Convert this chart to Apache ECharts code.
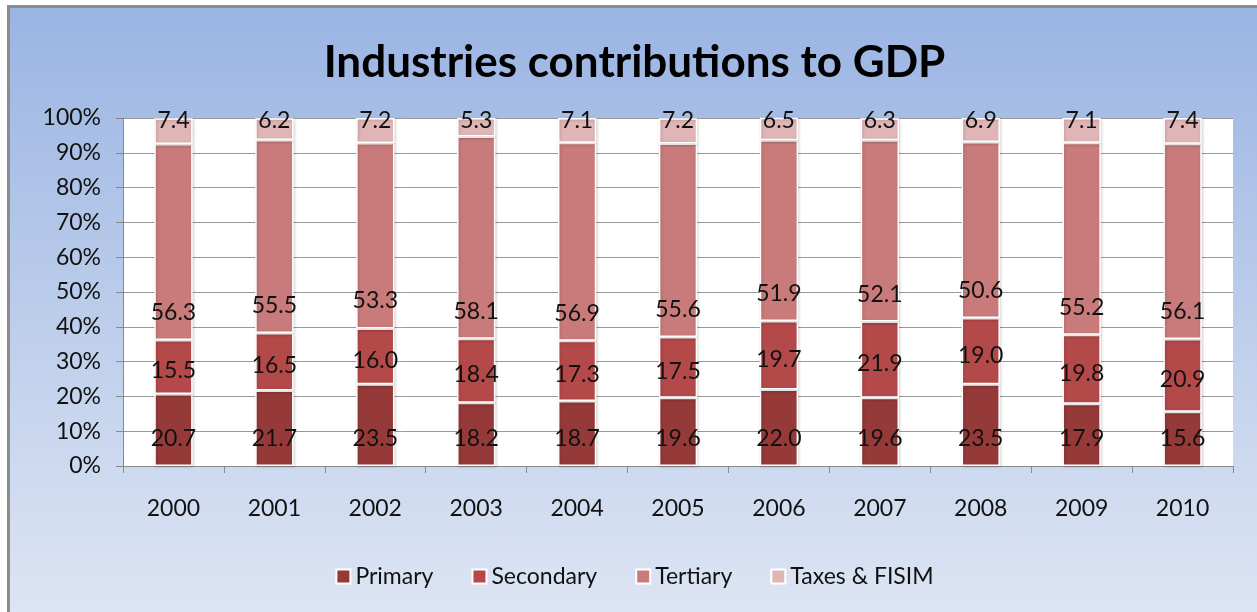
<!DOCTYPE html>
<html>
<head>
<meta charset="utf-8">
<script src="https://cdn.jsdelivr.net/npm/echarts@6/dist/echarts.min.js"></script>
<style>
  html, body { margin: 0; padding: 0; background: #fff; }
  #chart {
    position: absolute; left: 7px; top: 5px; width: 1249px; height: 620px;
    border-left: 3px solid #8c8c8c; border-top: 3px solid #8c8c8c;
    background: linear-gradient(to bottom, #9ab4e3 0%, #b9cbea 45%, #dfe6f4 100%);
  }
</style>
</head>
<body>
<div id="chart"></div>
<script>
var years = ['2000', '2001', '2002', '2003', '2004', '2005', '2006', '2007', '2008', '2009', '2010'];
var primary = [20.7, 21.7, 23.5, 18.2, 18.7, 19.6, 22.0, 19.6, 23.5, 17.9, 15.6];
var secondary = [15.5, 16.5, 16.0, 18.4, 17.3, 17.5, 19.7, 21.9, 19.0, 19.8, 20.9];
var tertiary = [56.3, 55.5, 53.3, 58.1, 56.9, 55.6, 51.9, 52.1, 50.6, 55.2, 56.1];
var taxes = [7.4, 6.2, 7.2, 5.3, 7.1, 7.2, 6.5, 6.3, 6.9, 7.1, 7.4];
var yTicks = [0, 10, 20, 30, 40, 50, 60, 70, 80, 90, 100];

var font = 'Lato, "Open Sans", sans-serif';

function seg(name, data, color, label) {
  return {
    name: name,
    type: 'bar',
    stack: 'gdp',
    barWidth: '38%',
    data: data,
    itemStyle: {
      color: color,
      borderColor: '#ffffff',
      borderWidth: 1.5,
      shadowColor: 'rgba(0,0,0,0.18)',
      shadowBlur: 3,
      shadowOffsetX: 1,
      shadowOffsetY: 1
    },
    label: Object.assign({
      show: true,
      color: '#111',
      fontSize: 23,
      fontFamily: font,
      formatter: function (p) { return p.value.toFixed(1); }
    }, label)
  };
}

var chart = echarts.init(document.getElementById('chart'), null, { renderer: 'canvas' });

var option = {
  animation: false,
  backgroundColor: 'transparent',
  title: {
    text: 'Industries contributions to GDP',
    left: 'center',
    top: 28,
    textStyle: { fontSize: 44, fontWeight: 'bold', color: '#000', fontFamily: font }
  },
  legend: {
    top: 552,
    left: 'center',
    itemWidth: 14,
    itemHeight: 14,
    itemGap: 38,
    icon: 'rect',
    textStyle: { fontSize: 23, color: '#111', fontFamily: font },
    data: ['Primary', 'Secondary', 'Tertiary', 'Taxes & FISIM']
  },
  grid: { left: 113, right: 26, top: 110, bottom: 162, containLabel: false },
  xAxis: {
    type: 'category',
    data: years,
    axisLine: { lineStyle: { color: '#888' } },
    axisTick: { show: true, length: 7, lineStyle: { color: '#888' } },
    axisLabel: { fontSize: 23, color: '#111', margin: 31, fontFamily: font }
  },
  yAxis: {
    type: 'value',
    min: yTicks[0],
    max: yTicks[yTicks.length - 1],
    interval: 10,
    axisLine: { show: true, lineStyle: { color: '#888' } },
    axisTick: { show: true, length: 7, lineStyle: { color: '#888' } },
    splitLine: { lineStyle: { color: '#999' } },
    splitArea: { show: true, areaStyle: { color: ['#ffffff', '#ffffff'] } },
    axisLabel: { fontSize: 23, color: '#111', margin: 22, fontFamily: font, formatter: '{value}%' }
  },
  series: [
    seg('Primary', primary, '#953a38', { position: 'insideBottom', distance: 16 }),
    seg('Secondary', secondary, '#b4494a', { position: 'inside', offset: [0, 4] }),
    seg('Tertiary', tertiary, '#c97b7b', { position: 'insideBottom', distance: 16 }),
    seg('Taxes & FISIM', taxes, '#e0b5b5', { position: 'insideTop', offset: [0, -14] })
  ]
};

chart.setOption(option);
window.addEventListener('resize', chart.resize);
</script>
</body>
</html>
